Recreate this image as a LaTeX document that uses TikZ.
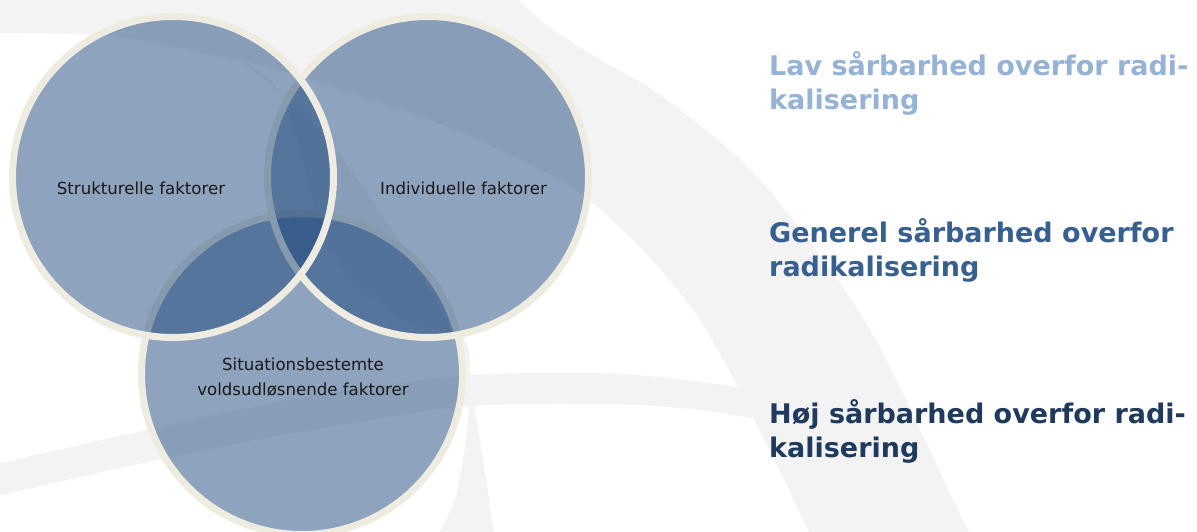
\documentclass[tikz,border=0pt]{standalone}
\usepackage{fontspec}
\setmainfont{DejaVu Sans}
\definecolor{bandgray}{HTML}{F3F3F3}
\definecolor{vennfill}{HTML}{1F497D}
\definecolor{vennring}{HTML}{EEECE1}
\definecolor{lowcol}{HTML}{95B3D7}
\definecolor{midcol}{HTML}{376092}
\definecolor{highcol}{HTML}{1F3A5F}
\tikzset{
  venn/.style={fill=vennfill, fill opacity=0.5, draw=vennring, line width=7pt},
  vlabel/.style={font=\fontsize{16.6}{25}\selectfont, text=black!90, inner sep=0pt, align=center},
  heading/.style={font=\fontsize{27}{34}\selectfont\bfseries, inner sep=0pt, align=left, anchor=base west},
  band/.style={fill=bandgray, draw=none}
}
\begin{document}
\begin{tikzpicture}[x=1pt,y=-1pt]
\useasboundingbox (0,0) rectangle (1197,532);
\fill[white] (0,0) rectangle (1197,532);
\begin{scope}
\clip (0,0) rectangle (1197,532);
% big meridian band
\fill[band] plot[smooth] coordinates {(-20,33) (111,36) (241,61) (306,78) (450,128) (585,197) (700,320) (809,532) (820,570)}
  -- plot[smooth] coordinates {(1000,570) (969,532) (870,330) (760,180) (660,95) (600,60) (540,20) (500,-20)}
  -- (-20,-20) -- cycle;
% narrower meridian band
\fill[band] plot[smooth] coordinates {(241,61) (333,146) (455,339) (494,532) (500,570)}
  -- plot[smooth] coordinates {(430,570) (440,532) (455,500) (466,440) (470,374) (462,338) (400,318) (330,250) (300,150) (275,85) (241,61)} -- cycle;
% parallel band
\fill[band] plot[smooth] coordinates {(-20,468) (146,430) (300,398) (460,376) (600,373) (700,382) (820,400)}
  -- plot[smooth] coordinates {(820,430) (700,410) (600,404) (460,407) (300,432) (165,458) (-20,500)} -- cycle;
\end{scope}
% Venn circles (bottom first)
\draw[venn] (302,374) circle[radius=160.5];
\draw[venn] (428,177) circle[radius=160.5];
\draw[venn] (173,177) circle[radius=160.5];
\node[vlabel] (s) at (141,188) {Strukturelle faktorer};
\node[vlabel] (i) at (463.5,188) {Individuelle faktorer};
\node[vlabel] (v) at (303,377.5) {Situationsbestemte\\voldsudløsnende faktorer};
\node[heading, text=lowcol] (low) at (769,110) {Lav sårbarhed overfor radi-\\kalisering};
\node[heading, text=midcol] (mid) at (769,276) {Generel sårbarhed overfor\\radikalisering};
\node[heading, text=highcol] (high) at (769,457) {Høj sårbarhed overfor radi-\\kalisering};
\end{tikzpicture}
\end{document}
